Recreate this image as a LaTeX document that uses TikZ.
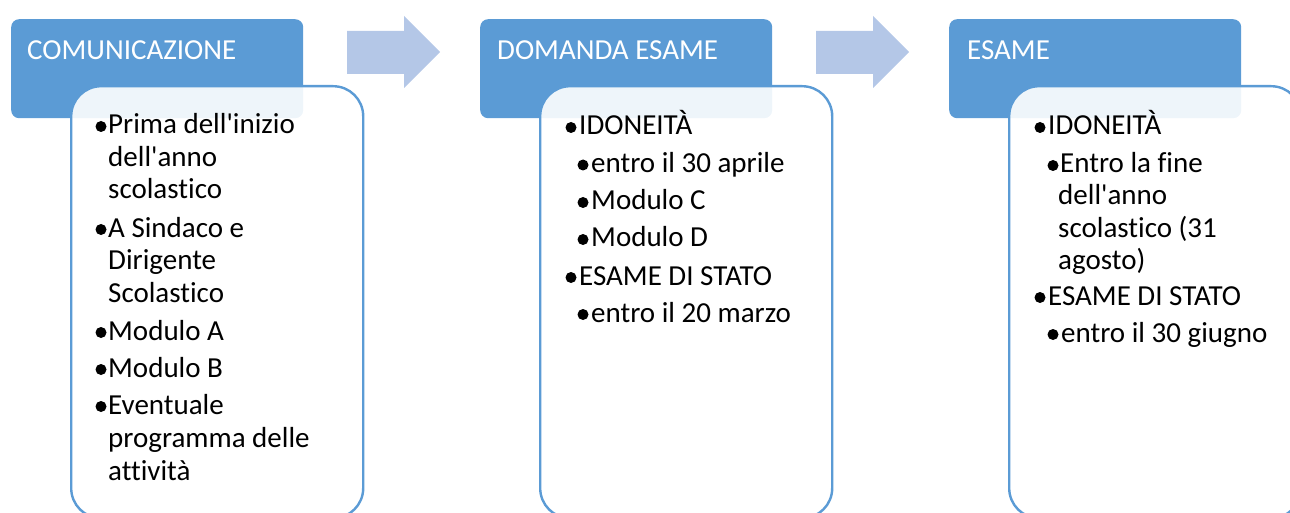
\documentclass[tikz,border=0pt]{standalone}
\usepackage{fontspec}
\setmainfont{Carlito}[Ligatures=NoCommon]
\definecolor{hdr}{RGB}{91,155,213}
\definecolor{arr}{RGB}{180,199,231}
\newcommand\txtline[4]{\node[txt] (#1) at (#2,#3) {#4};}
\newcommand\bulline[4]{\node[bul] (#1) at ({#2-9},{#3-7.5}) {};}
\newcommand\apo{\textquotesingle}
\begin{document}
\begin{tikzpicture}[x=1pt,y=-1pt,
  hdrbox/.style={fill=hdr, rounded corners=8pt, inner sep=0pt, anchor=north west,
    minimum width=292pt, minimum height=99pt},
  cbox/.style={draw=hdr, line width=2.4pt, fill=white, fill opacity=0.9,
    rounded corners=30pt, inner sep=0pt, anchor=north west,
    minimum width=292pt, minimum height=432pt},
  hdrtxt/.style={text=white, anchor=base west, inner sep=0pt, font=\fontsize{29}{35}\selectfont},
  txt/.style={text=black, anchor=base west, inner sep=0pt, font=\fontsize{29}{33}\selectfont},
  bul/.style={circle, fill=black, draw=none, inner sep=0pt, minimum size=11pt},
  arrowshape/.style={fill=arr}]
\useasboundingbox (0,0) rectangle (1290,513);
\clip (0,0) rectangle (1290,513);

% column 1
\node[hdrbox] (h1) at (11,19) {};
\node[hdrtxt] (h1t) at (27,60) {COMUNICAZIONE};
\node[cbox] (c1) at (70,85) {};
% column 2
\node[hdrbox] (h2) at (480,19) {};
\node[hdrtxt] (h2t) at (497,60) {DOMANDA ESAME};
\node[cbox] (c2) at (539,85) {};
% column 3
\node[hdrbox] (h3) at (949,19) {};
\node[hdrtxt] (h3t) at (967,60) {ESAME};
\node[cbox] (c3) at (1008,85) {};

% arrows
\fill[arrowshape] (347,31) -- (404,31) -- (404,16) -- (440,52) -- (404,88) -- (404,74) -- (347,74) -- cycle;
\fill[arrowshape] (816,31) -- (873,31) -- (873,16) -- (909,52) -- (873,88) -- (873,74) -- (816,74) -- cycle;

% box 1 text
\bulline{b11}{110}{134}{}
\txtline{l11}{108}{134}{Prima dell\apo inizio}
\txtline{l12}{108}{166.5}{dell\apo anno}
\txtline{l13}{108}{199}{scolastico}
\bulline{b12}{110}{237}{}
\txtline{l14}{108}{237}{A Sindaco e}
\txtline{l15}{108}{269.5}{Dirigente}
\txtline{l16}{108}{302}{Scolastico}
\bulline{b13}{110}{340}{}
\txtline{l17}{108}{340}{Modulo A}
\bulline{b14}{110}{377}{}
\txtline{l18}{108}{377}{Modulo B}
\bulline{b15}{110}{414}{}
\txtline{l19}{108}{414}{Eventuale}
\txtline{l1a}{108}{447}{programma delle}
\txtline{l1b}{108}{480}{attività}

% box 2 text
\bulline{b21}{580}{135}{}
\txtline{l21}{579}{135}{IDONEITÀ}
\bulline{b22}{592}{172.5}{}
\txtline{l22}{591}{172.5}{entro il 30 aprile}
\bulline{b23}{592}{210}{}
\txtline{l23}{591}{210}{Modulo C}
\bulline{b24}{592}{247}{}
\txtline{l24}{591}{247}{Modulo D}
\bulline{b25}{580}{285}{}
\txtline{l25}{579}{285}{ESAME DI STATO}
\bulline{b26}{592}{322}{}
\txtline{l26}{591}{322}{entro il 20 marzo}

% box 3 text
\bulline{b31}{1049}{135}{}
\txtline{l31}{1048}{135}{IDONEITÀ}
\bulline{b32}{1062}{173}{}
\txtline{l32}{1060}{173}{Entro la fine}
\txtline{l33}{1058}{205}{dell\apo anno}
\txtline{l34}{1058}{237}{scolastico (31}
\txtline{l35}{1058}{269}{agosto)}
\bulline{b33}{1049}{305}{}
\txtline{l36}{1048}{305}{ESAME DI STATO}
\bulline{b34}{1062}{342}{}
\txtline{l37}{1061}{342}{entro il 30 giugno}
\end{tikzpicture}
\end{document}
